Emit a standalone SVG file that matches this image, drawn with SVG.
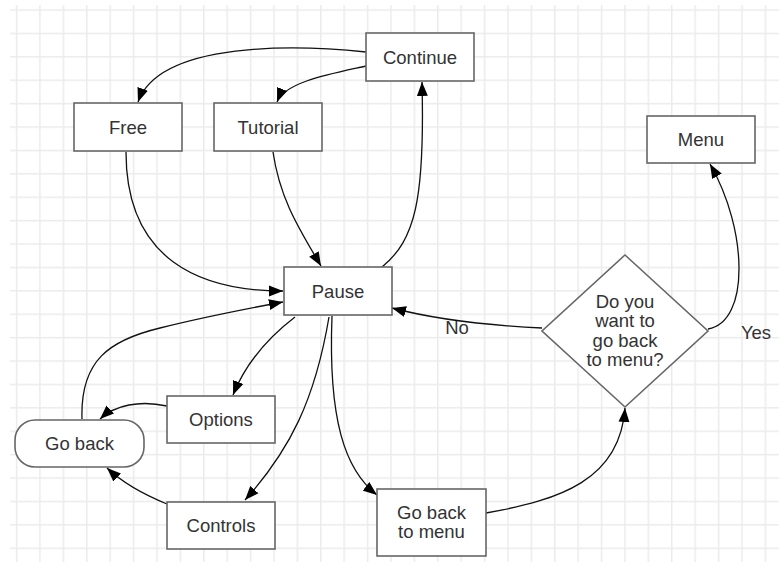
<svg xmlns="http://www.w3.org/2000/svg" width="779" height="562" viewBox="0 0 779 562">
<style>
.box{fill:#fff;stroke:#666;stroke-width:1.6}
.t{font-family:"Liberation Sans",Arial,sans-serif;font-size:18.5px;fill:#333;text-anchor:middle}
.e{fill:none;stroke:#111;stroke-width:1.3;marker-end:url(#ah)}
</style>
<defs>
<pattern id="grid" patternUnits="userSpaceOnUse" x="15.8" y="9.3" width="23.4" height="23.4">
<path d="M0,0.7 H23.4 M0.7,0 V23.4" stroke="#ebebeb" stroke-width="1.5" fill="none"/>
</pattern>
<marker id="ah" markerUnits="userSpaceOnUse" markerWidth="15" markerHeight="12" refX="14" refY="5.5" orient="auto" viewBox="0 0 15 11">
<path d="M0,0 L14,5.5 L0,11 z" fill="#000"/>
</marker>
</defs>
<rect width="779" height="562" fill="#fff"/>
<rect x="10" y="5" width="769" height="557" fill="url(#grid)"/>
<g id="connectors">
<path class="e" d="M366,52 C300,45 160,40 138,102"/>
<path class="e" d="M366,66 C330,74 285,82 277,102"/>
<path class="e" d="M126,152 C126,260 200,291 283,291"/>
<path class="e" d="M273,152 C280,200 300,230 321,266"/>
<path class="e" d="M382,267 C415,240 425,200 422,82"/>
<path class="e" d="M542,328 C480,325 430,318 392,308"/>
<path class="e" d="M708,329 C750,322 748,230 710,164"/>
<path class="e" d="M486,513 C560,500 620,480 625,408"/>
<path class="e" d="M332,316 C328,420 345,470 377,495"/>
<path class="e" d="M329,317 C315,400 290,450 245,500"/>
<path class="e" d="M295,317 C265,340 245,365 233,395"/>
<path class="e" d="M167,406 C140,400 115,405 100,419"/>
<path class="e" d="M167,504 C145,495 125,485 107,468"/>
<path class="e" d="M82,419 C80,360 110,340 160,328 C200,318 240,310 283,302"/>
<text class="t" x="457" y="334">No</text>
<text class="t" x="756" y="339">Yes</text>
</g>
<g id="continue"><rect class="box" x="366" y="33" width="108" height="48"/><text class="t" x="420" y="63.5">Continue</text></g>
<g id="free"><rect class="box" x="74" y="103" width="108" height="48"/><text class="t" x="128" y="133.5">Free</text></g>
<g id="tutorial"><rect class="box" x="214" y="103" width="108" height="48"/><text class="t" x="268" y="133.5">Tutorial</text></g>
<g id="menu"><rect class="box" x="647" y="116" width="108" height="47"/><text class="t" x="701" y="146">Menu</text></g>
<g id="pause"><rect class="box" x="284" y="267" width="108" height="48"/><text class="t" x="338" y="297.5">Pause</text></g>
<g id="options"><rect class="box" x="167" y="396" width="108" height="47"/><text class="t" x="221" y="426">Options</text></g>
<g id="goback"><rect class="box" x="15" y="420" width="129" height="47" rx="20" ry="20"/><text class="t" x="79.5" y="450">Go back</text></g>
<g id="controls"><rect class="box" x="167" y="502" width="108" height="47"/><text class="t" x="221" y="532">Controls</text></g>
<g id="gobacktomenu"><rect class="box" x="377" y="489" width="109" height="67"/><text class="t" x="431.5" y="519.3">Go back</text><text class="t" x="431.5" y="538.3">to menu</text></g>
<g id="decision"><polygon class="box" points="625,255 708,331 625,407 542,331"/>
<text class="t" x="625" y="308.3">Do you</text><text class="t" x="625" y="327.3">want to</text><text class="t" x="625" y="346.7">go back</text><text class="t" x="625" y="365.7">to menu?</text></g>
</svg>
